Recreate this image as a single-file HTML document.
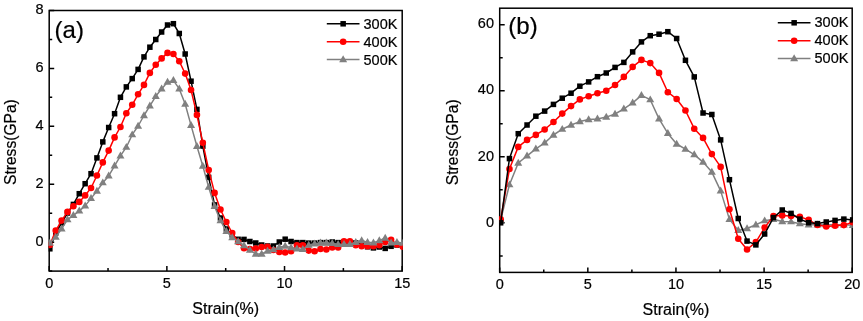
<!DOCTYPE html>
<html><head><meta charset="utf-8"><style>
html,body{margin:0;padding:0;background:#fff;}
body{width:863px;height:321px;overflow:hidden;}
svg{display:block;font-family:"Liberation Sans", sans-serif;will-change:transform;}
text{stroke:#000;stroke-width:0.2px;}
</style></head><body>
<svg width="863" height="321" viewBox="0 0 863 321">
<rect width="863" height="321" fill="#fff"/>
<rect x="49.2" y="10.5" width="353" height="260.6" fill="none" stroke="#000" stroke-width="1.5"/><path d="M49.2 271.1V266.1M166.87 271.1V266.1M284.53 271.1V266.1M402.2 271.1V266.1M108.03 271.1V268.1M225.7 271.1V268.1M343.37 271.1V268.1M49.2 242.14H54.2M49.2 184.23H54.2M49.2 126.32H54.2M49.2 68.41H54.2M49.2 10.5H54.2M49.2 271.1H52.2M49.2 213.19H52.2M49.2 155.28H52.2M49.2 97.37H52.2M49.2 39.46H52.2" stroke="#000" stroke-width="1.5" fill="none"/><clipPath id="ca"><rect x="48.6" y="9.9" width="354.2" height="261.8"/></clipPath><g clip-path="url(#ca)"><polyline points="49.85,248.8 55.73,233 61.62,223 67.5,213 73.38,204.4 79.27,193.7 85.15,183.7 91.03,173.7 96.92,157.9 102.8,141.9 108.68,127.5 114.57,113.7 120.45,97.3 126.33,86.9 132.22,78.6 138.1,69.4 143.98,56.9 149.87,47.2 155.75,39.5 161.63,32 167.52,25 173.4,23.7 179.28,33.5 185.17,54 191.05,81.2 196.93,109.4 202.82,146.1 208.7,177.4 214.58,204.9 220.47,218 226.35,229 232.23,235 238.12,239.3 244,239.4 249.88,241.5 255.77,243 261.65,245 267.53,246 273.42,246 279.3,242 285.18,239.2 291.07,241.5 296.95,242.6 302.83,242.6 308.72,243.1 314.6,243.1 320.48,242.6 326.37,242.6 332.25,242 338.13,242.6 344.02,242.2 349.9,243.2 355.78,243 361.66,243.5 367.55,246.8 373.43,247.9 379.31,247 385.2,248.4 391.08,246.3 396.96,245 402.85,246.3" fill="none" stroke="#000000" stroke-width="1.5" stroke-linejoin="round"/><rect x="47.1" y="246.05" width="5.5" height="5.5" fill="#000000"/><rect x="52.98" y="230.25" width="5.5" height="5.5" fill="#000000"/><rect x="58.87" y="220.25" width="5.5" height="5.5" fill="#000000"/><rect x="64.75" y="210.25" width="5.5" height="5.5" fill="#000000"/><rect x="70.63" y="201.65" width="5.5" height="5.5" fill="#000000"/><rect x="76.52" y="190.95" width="5.5" height="5.5" fill="#000000"/><rect x="82.4" y="180.95" width="5.5" height="5.5" fill="#000000"/><rect x="88.28" y="170.95" width="5.5" height="5.5" fill="#000000"/><rect x="94.17" y="155.15" width="5.5" height="5.5" fill="#000000"/><rect x="100.05" y="139.15" width="5.5" height="5.5" fill="#000000"/><rect x="105.93" y="124.75" width="5.5" height="5.5" fill="#000000"/><rect x="111.82" y="110.95" width="5.5" height="5.5" fill="#000000"/><rect x="117.7" y="94.55" width="5.5" height="5.5" fill="#000000"/><rect x="123.58" y="84.15" width="5.5" height="5.5" fill="#000000"/><rect x="129.47" y="75.85" width="5.5" height="5.5" fill="#000000"/><rect x="135.35" y="66.65" width="5.5" height="5.5" fill="#000000"/><rect x="141.23" y="54.15" width="5.5" height="5.5" fill="#000000"/><rect x="147.12" y="44.45" width="5.5" height="5.5" fill="#000000"/><rect x="153" y="36.75" width="5.5" height="5.5" fill="#000000"/><rect x="158.88" y="29.25" width="5.5" height="5.5" fill="#000000"/><rect x="164.77" y="22.25" width="5.5" height="5.5" fill="#000000"/><rect x="170.65" y="20.95" width="5.5" height="5.5" fill="#000000"/><rect x="176.53" y="30.75" width="5.5" height="5.5" fill="#000000"/><rect x="182.42" y="51.25" width="5.5" height="5.5" fill="#000000"/><rect x="188.3" y="78.45" width="5.5" height="5.5" fill="#000000"/><rect x="194.18" y="106.65" width="5.5" height="5.5" fill="#000000"/><rect x="200.07" y="143.35" width="5.5" height="5.5" fill="#000000"/><rect x="205.95" y="174.65" width="5.5" height="5.5" fill="#000000"/><rect x="211.83" y="202.15" width="5.5" height="5.5" fill="#000000"/><rect x="217.72" y="215.25" width="5.5" height="5.5" fill="#000000"/><rect x="223.6" y="226.25" width="5.5" height="5.5" fill="#000000"/><rect x="229.48" y="232.25" width="5.5" height="5.5" fill="#000000"/><rect x="235.37" y="236.55" width="5.5" height="5.5" fill="#000000"/><rect x="241.25" y="236.65" width="5.5" height="5.5" fill="#000000"/><rect x="247.13" y="238.75" width="5.5" height="5.5" fill="#000000"/><rect x="253.02" y="240.25" width="5.5" height="5.5" fill="#000000"/><rect x="258.9" y="242.25" width="5.5" height="5.5" fill="#000000"/><rect x="264.78" y="243.25" width="5.5" height="5.5" fill="#000000"/><rect x="270.67" y="243.25" width="5.5" height="5.5" fill="#000000"/><rect x="276.55" y="239.25" width="5.5" height="5.5" fill="#000000"/><rect x="282.43" y="236.45" width="5.5" height="5.5" fill="#000000"/><rect x="288.32" y="238.75" width="5.5" height="5.5" fill="#000000"/><rect x="294.2" y="239.85" width="5.5" height="5.5" fill="#000000"/><rect x="300.08" y="239.85" width="5.5" height="5.5" fill="#000000"/><rect x="305.97" y="240.35" width="5.5" height="5.5" fill="#000000"/><rect x="311.85" y="240.35" width="5.5" height="5.5" fill="#000000"/><rect x="317.73" y="239.85" width="5.5" height="5.5" fill="#000000"/><rect x="323.62" y="239.85" width="5.5" height="5.5" fill="#000000"/><rect x="329.5" y="239.25" width="5.5" height="5.5" fill="#000000"/><rect x="335.38" y="239.85" width="5.5" height="5.5" fill="#000000"/><rect x="341.27" y="239.45" width="5.5" height="5.5" fill="#000000"/><rect x="347.15" y="240.45" width="5.5" height="5.5" fill="#000000"/><rect x="353.03" y="240.25" width="5.5" height="5.5" fill="#000000"/><rect x="358.91" y="240.75" width="5.5" height="5.5" fill="#000000"/><rect x="364.8" y="244.05" width="5.5" height="5.5" fill="#000000"/><rect x="370.68" y="245.15" width="5.5" height="5.5" fill="#000000"/><rect x="376.56" y="244.25" width="5.5" height="5.5" fill="#000000"/><rect x="382.45" y="245.65" width="5.5" height="5.5" fill="#000000"/><rect x="388.33" y="243.55" width="5.5" height="5.5" fill="#000000"/><rect x="394.21" y="242.25" width="5.5" height="5.5" fill="#000000"/><rect x="400.1" y="243.55" width="5.5" height="5.5" fill="#000000"/><polyline points="49.85,245 55.73,230.6 61.62,220.6 67.5,211.9 73.38,206.2 79.27,201.9 85.15,195.4 91.03,188 96.92,175.5 102.8,162.4 108.68,150.6 114.57,137.4 120.45,127 126.33,113.2 132.22,104.8 138.1,94.3 143.98,84.9 149.87,72.9 155.75,64.7 161.63,58.4 167.52,52.9 173.4,54 179.28,61.2 185.17,73.6 191.05,90 196.93,114.9 202.82,142.8 208.7,170 214.58,192.9 220.47,209.5 226.35,222 232.23,233 238.12,242 244,248.3 249.88,249 255.77,248.5 261.65,247 267.53,246.8 273.42,250 279.3,252 285.18,252.5 291.07,251.2 296.95,245.2 302.83,245.2 308.72,250.6 314.6,251.2 320.48,249 326.37,249.5 332.25,247.4 338.13,247.4 344.02,241.4 349.9,241.4 355.78,245.2 361.66,246.3 367.55,246.3 373.43,246.3 379.31,245.2 385.2,241.9 391.08,239.7 396.96,244.6 402.85,246.8" fill="none" stroke="#ff0000" stroke-width="1.5" stroke-linejoin="round"/><circle cx="49.85" cy="245" r="3.3" fill="#ff0000"/><circle cx="55.73" cy="230.6" r="3.3" fill="#ff0000"/><circle cx="61.62" cy="220.6" r="3.3" fill="#ff0000"/><circle cx="67.5" cy="211.9" r="3.3" fill="#ff0000"/><circle cx="73.38" cy="206.2" r="3.3" fill="#ff0000"/><circle cx="79.27" cy="201.9" r="3.3" fill="#ff0000"/><circle cx="85.15" cy="195.4" r="3.3" fill="#ff0000"/><circle cx="91.03" cy="188" r="3.3" fill="#ff0000"/><circle cx="96.92" cy="175.5" r="3.3" fill="#ff0000"/><circle cx="102.8" cy="162.4" r="3.3" fill="#ff0000"/><circle cx="108.68" cy="150.6" r="3.3" fill="#ff0000"/><circle cx="114.57" cy="137.4" r="3.3" fill="#ff0000"/><circle cx="120.45" cy="127" r="3.3" fill="#ff0000"/><circle cx="126.33" cy="113.2" r="3.3" fill="#ff0000"/><circle cx="132.22" cy="104.8" r="3.3" fill="#ff0000"/><circle cx="138.1" cy="94.3" r="3.3" fill="#ff0000"/><circle cx="143.98" cy="84.9" r="3.3" fill="#ff0000"/><circle cx="149.87" cy="72.9" r="3.3" fill="#ff0000"/><circle cx="155.75" cy="64.7" r="3.3" fill="#ff0000"/><circle cx="161.63" cy="58.4" r="3.3" fill="#ff0000"/><circle cx="167.52" cy="52.9" r="3.3" fill="#ff0000"/><circle cx="173.4" cy="54" r="3.3" fill="#ff0000"/><circle cx="179.28" cy="61.2" r="3.3" fill="#ff0000"/><circle cx="185.17" cy="73.6" r="3.3" fill="#ff0000"/><circle cx="191.05" cy="90" r="3.3" fill="#ff0000"/><circle cx="196.93" cy="114.9" r="3.3" fill="#ff0000"/><circle cx="202.82" cy="142.8" r="3.3" fill="#ff0000"/><circle cx="208.7" cy="170" r="3.3" fill="#ff0000"/><circle cx="214.58" cy="192.9" r="3.3" fill="#ff0000"/><circle cx="220.47" cy="209.5" r="3.3" fill="#ff0000"/><circle cx="226.35" cy="222" r="3.3" fill="#ff0000"/><circle cx="232.23" cy="233" r="3.3" fill="#ff0000"/><circle cx="238.12" cy="242" r="3.3" fill="#ff0000"/><circle cx="244" cy="248.3" r="3.3" fill="#ff0000"/><circle cx="249.88" cy="249" r="3.3" fill="#ff0000"/><circle cx="255.77" cy="248.5" r="3.3" fill="#ff0000"/><circle cx="261.65" cy="247" r="3.3" fill="#ff0000"/><circle cx="267.53" cy="246.8" r="3.3" fill="#ff0000"/><circle cx="273.42" cy="250" r="3.3" fill="#ff0000"/><circle cx="279.3" cy="252" r="3.3" fill="#ff0000"/><circle cx="285.18" cy="252.5" r="3.3" fill="#ff0000"/><circle cx="291.07" cy="251.2" r="3.3" fill="#ff0000"/><circle cx="296.95" cy="245.2" r="3.3" fill="#ff0000"/><circle cx="302.83" cy="245.2" r="3.3" fill="#ff0000"/><circle cx="308.72" cy="250.6" r="3.3" fill="#ff0000"/><circle cx="314.6" cy="251.2" r="3.3" fill="#ff0000"/><circle cx="320.48" cy="249" r="3.3" fill="#ff0000"/><circle cx="326.37" cy="249.5" r="3.3" fill="#ff0000"/><circle cx="332.25" cy="247.4" r="3.3" fill="#ff0000"/><circle cx="338.13" cy="247.4" r="3.3" fill="#ff0000"/><circle cx="344.02" cy="241.4" r="3.3" fill="#ff0000"/><circle cx="349.9" cy="241.4" r="3.3" fill="#ff0000"/><circle cx="355.78" cy="245.2" r="3.3" fill="#ff0000"/><circle cx="361.66" cy="246.3" r="3.3" fill="#ff0000"/><circle cx="367.55" cy="246.3" r="3.3" fill="#ff0000"/><circle cx="373.43" cy="246.3" r="3.3" fill="#ff0000"/><circle cx="379.31" cy="245.2" r="3.3" fill="#ff0000"/><circle cx="385.2" cy="241.9" r="3.3" fill="#ff0000"/><circle cx="391.08" cy="239.7" r="3.3" fill="#ff0000"/><circle cx="396.96" cy="244.6" r="3.3" fill="#ff0000"/><circle cx="402.85" cy="246.8" r="3.3" fill="#ff0000"/><polyline points="49.85,243 55.73,237 61.62,228.9 67.5,219.6 73.38,215.4 79.27,210.9 85.15,205.9 91.03,198.4 96.92,191 102.8,182.7 108.68,175.9 114.57,165.9 120.45,155.9 126.33,147.2 132.22,134.7 138.1,126 143.98,115.5 149.87,105.8 155.75,96.3 161.63,88.9 167.52,82.1 173.4,80.4 179.28,88.9 185.17,104 191.05,125.4 196.93,146.3 202.82,166 208.7,187.2 214.58,206.4 220.47,220.7 226.35,231.3 232.23,237.5 238.12,241.6 244,245.5 249.88,250 255.77,254 261.65,254 267.53,251 273.42,249.7 279.3,247.3 285.18,246 291.07,247.6 296.95,248.8 302.83,249.4 308.72,245 314.6,243.9 320.48,242.8 326.37,242.8 332.25,243.4 338.13,244.4 344.02,244.4 349.9,244.4 355.78,242.3 361.66,240.6 367.55,242.3 373.43,242.8 379.31,240.6 385.2,238 391.08,242.8 396.96,242.3 402.85,243" fill="none" stroke="#808080" stroke-width="1.5" stroke-linejoin="round"/><path d="M49.85 238.7L53.85 245.63L45.85 245.63Z" fill="#808080"/><path d="M55.73 232.7L59.73 239.63L51.73 239.63Z" fill="#808080"/><path d="M61.62 224.6L65.62 231.53L57.62 231.53Z" fill="#808080"/><path d="M67.5 215.3L71.5 222.23L63.5 222.23Z" fill="#808080"/><path d="M73.38 211.1L77.38 218.03L69.38 218.03Z" fill="#808080"/><path d="M79.27 206.6L83.27 213.53L75.27 213.53Z" fill="#808080"/><path d="M85.15 201.6L89.15 208.53L81.15 208.53Z" fill="#808080"/><path d="M91.03 194.1L95.03 201.03L87.03 201.03Z" fill="#808080"/><path d="M96.92 186.7L100.92 193.63L92.92 193.63Z" fill="#808080"/><path d="M102.8 178.4L106.8 185.33L98.8 185.33Z" fill="#808080"/><path d="M108.68 171.6L112.68 178.53L104.68 178.53Z" fill="#808080"/><path d="M114.57 161.6L118.57 168.53L110.57 168.53Z" fill="#808080"/><path d="M120.45 151.6L124.45 158.53L116.45 158.53Z" fill="#808080"/><path d="M126.33 142.9L130.33 149.83L122.33 149.83Z" fill="#808080"/><path d="M132.22 130.4L136.22 137.33L128.22 137.33Z" fill="#808080"/><path d="M138.1 121.7L142.1 128.63L134.1 128.63Z" fill="#808080"/><path d="M143.98 111.2L147.98 118.13L139.98 118.13Z" fill="#808080"/><path d="M149.87 101.5L153.87 108.43L145.87 108.43Z" fill="#808080"/><path d="M155.75 92L159.75 98.93L151.75 98.93Z" fill="#808080"/><path d="M161.63 84.6L165.63 91.53L157.63 91.53Z" fill="#808080"/><path d="M167.52 77.8L171.52 84.73L163.52 84.73Z" fill="#808080"/><path d="M173.4 76.1L177.4 83.03L169.4 83.03Z" fill="#808080"/><path d="M179.28 84.6L183.28 91.53L175.28 91.53Z" fill="#808080"/><path d="M185.17 99.7L189.17 106.63L181.17 106.63Z" fill="#808080"/><path d="M191.05 121.1L195.05 128.03L187.05 128.03Z" fill="#808080"/><path d="M196.93 142L200.93 148.93L192.93 148.93Z" fill="#808080"/><path d="M202.82 161.7L206.82 168.63L198.82 168.63Z" fill="#808080"/><path d="M208.7 182.9L212.7 189.83L204.7 189.83Z" fill="#808080"/><path d="M214.58 202.1L218.58 209.03L210.58 209.03Z" fill="#808080"/><path d="M220.47 216.4L224.47 223.33L216.47 223.33Z" fill="#808080"/><path d="M226.35 227L230.35 233.93L222.35 233.93Z" fill="#808080"/><path d="M232.23 233.2L236.23 240.13L228.23 240.13Z" fill="#808080"/><path d="M238.12 237.3L242.12 244.23L234.12 244.23Z" fill="#808080"/><path d="M244 241.2L248 248.13L240 248.13Z" fill="#808080"/><path d="M249.88 245.7L253.88 252.63L245.88 252.63Z" fill="#808080"/><path d="M255.77 249.7L259.77 256.63L251.77 256.63Z" fill="#808080"/><path d="M261.65 249.7L265.65 256.63L257.65 256.63Z" fill="#808080"/><path d="M267.53 246.7L271.53 253.63L263.53 253.63Z" fill="#808080"/><path d="M273.42 245.4L277.42 252.33L269.42 252.33Z" fill="#808080"/><path d="M279.3 243L283.3 249.93L275.3 249.93Z" fill="#808080"/><path d="M285.18 241.7L289.18 248.63L281.18 248.63Z" fill="#808080"/><path d="M291.07 243.3L295.07 250.23L287.07 250.23Z" fill="#808080"/><path d="M296.95 244.5L300.95 251.43L292.95 251.43Z" fill="#808080"/><path d="M302.83 245.1L306.83 252.03L298.83 252.03Z" fill="#808080"/><path d="M308.72 240.7L312.72 247.63L304.72 247.63Z" fill="#808080"/><path d="M314.6 239.6L318.6 246.53L310.6 246.53Z" fill="#808080"/><path d="M320.48 238.5L324.48 245.43L316.48 245.43Z" fill="#808080"/><path d="M326.37 238.5L330.37 245.43L322.37 245.43Z" fill="#808080"/><path d="M332.25 239.1L336.25 246.03L328.25 246.03Z" fill="#808080"/><path d="M338.13 240.1L342.13 247.03L334.13 247.03Z" fill="#808080"/><path d="M344.02 240.1L348.02 247.03L340.02 247.03Z" fill="#808080"/><path d="M349.9 240.1L353.9 247.03L345.9 247.03Z" fill="#808080"/><path d="M355.78 238L359.78 244.93L351.78 244.93Z" fill="#808080"/><path d="M361.66 236.3L365.66 243.23L357.66 243.23Z" fill="#808080"/><path d="M367.55 238L371.55 244.93L363.55 244.93Z" fill="#808080"/><path d="M373.43 238.5L377.43 245.43L369.43 245.43Z" fill="#808080"/><path d="M379.31 236.3L383.31 243.23L375.31 243.23Z" fill="#808080"/><path d="M385.2 233.7L389.2 240.63L381.2 240.63Z" fill="#808080"/><path d="M391.08 238.5L395.08 245.43L387.08 245.43Z" fill="#808080"/><path d="M396.96 238L400.96 244.93L392.96 244.93Z" fill="#808080"/><path d="M402.85 238.7L406.85 245.63L398.85 245.63Z" fill="#808080"/></g><text x="49.2" y="287.6" text-anchor="middle" font-size="14.5">0</text><text x="166.87" y="287.6" text-anchor="middle" font-size="14.5">5</text><text x="284.53" y="287.6" text-anchor="middle" font-size="14.5">10</text><text x="402.2" y="287.6" text-anchor="middle" font-size="14.5">15</text><text x="43.5" y="245.84" text-anchor="end" font-size="14.5">0</text><text x="43.5" y="187.93" text-anchor="end" font-size="14.5">2</text><text x="43.5" y="130.02" text-anchor="end" font-size="14.5">4</text><text x="43.5" y="72.11" text-anchor="end" font-size="14.5">6</text><text x="43.5" y="14.2" text-anchor="end" font-size="14.5">8</text><text x="225.7" y="313.7" text-anchor="middle" font-size="16">Strain(%)</text><text transform="translate(16 142.1) rotate(-90)" text-anchor="middle" font-size="15.6">Stress(GPa)</text><text x="54.6" y="37.5" font-size="24">(a)</text><path d="M326.8 23.8H359.5" stroke="#000000" stroke-width="1.5"/><rect x="340.4" y="21.05" width="5.5" height="5.5" fill="#000000"/><text x="363.5" y="29" font-size="14.5">300K</text><path d="M326.8 41.7H359.5" stroke="#ff0000" stroke-width="1.5"/><circle cx="343.15" cy="41.7" r="3.3" fill="#ff0000"/><text x="363.5" y="46.9" font-size="14.5">400K</text><path d="M326.8 59.6H359.5" stroke="#808080" stroke-width="1.5"/><path d="M343.15 55.3L347.15 62.23L339.15 62.23Z" fill="#808080"/><text x="363.5" y="64.8" font-size="14.5">500K</text>
<rect x="499.7" y="8.2" width="352.5" height="264.2" fill="none" stroke="#000" stroke-width="1.5"/><path d="M499.7 272.4V267.4M587.83 272.4V267.4M675.95 272.4V267.4M764.08 272.4V267.4M852.2 272.4V267.4M543.76 272.4V269.4M631.89 272.4V269.4M720.01 272.4V269.4M808.14 272.4V269.4M499.7 222.86H504.7M499.7 156.81H504.7M499.7 90.76H504.7M499.7 24.71H504.7M499.7 255.89H502.7M499.7 189.84H502.7M499.7 123.79H502.7M499.7 57.74H502.7" stroke="#000" stroke-width="1.5" fill="none"/><clipPath id="cb"><rect x="499.1" y="7.6" width="353.7" height="265.4"/></clipPath><g clip-path="url(#cb)"><polyline points="500.65,220 509.45,184.7 518.25,163 527.05,155.9 535.85,148.9 544.65,142.9 553.45,135 562.25,129.2 571.05,125 579.85,121.6 588.65,119.6 597.45,118.9 606.25,117.1 615.05,114 623.85,108.9 632.65,102.9 641.45,95.4 650.25,99.7 659.05,118.9 667.85,133.4 676.65,144 685.45,149.2 694.25,154.6 703.05,162.1 711.85,172.1 720.65,190.9 729.45,219.4 738.25,230.4 747.05,228.5 755.85,224.8 764.65,220.7 773.45,219.3 782.25,221.6 791.05,221.7 799.85,223.7 808.65,224.8 817.45,224.8 826.25,224.8 835.05,224.8 843.85,224.8 852.65,225.3" fill="none" stroke="#808080" stroke-width="1.5" stroke-linejoin="round"/><path d="M500.65 215.7L504.65 222.63L496.65 222.63Z" fill="#808080"/><path d="M509.45 180.4L513.45 187.33L505.45 187.33Z" fill="#808080"/><path d="M518.25 158.7L522.25 165.63L514.25 165.63Z" fill="#808080"/><path d="M527.05 151.6L531.05 158.53L523.05 158.53Z" fill="#808080"/><path d="M535.85 144.6L539.85 151.53L531.85 151.53Z" fill="#808080"/><path d="M544.65 138.6L548.65 145.53L540.65 145.53Z" fill="#808080"/><path d="M553.45 130.7L557.45 137.63L549.45 137.63Z" fill="#808080"/><path d="M562.25 124.9L566.25 131.83L558.25 131.83Z" fill="#808080"/><path d="M571.05 120.7L575.05 127.63L567.05 127.63Z" fill="#808080"/><path d="M579.85 117.3L583.85 124.23L575.85 124.23Z" fill="#808080"/><path d="M588.65 115.3L592.65 122.23L584.65 122.23Z" fill="#808080"/><path d="M597.45 114.6L601.45 121.53L593.45 121.53Z" fill="#808080"/><path d="M606.25 112.8L610.25 119.73L602.25 119.73Z" fill="#808080"/><path d="M615.05 109.7L619.05 116.63L611.05 116.63Z" fill="#808080"/><path d="M623.85 104.6L627.85 111.53L619.85 111.53Z" fill="#808080"/><path d="M632.65 98.6L636.65 105.53L628.65 105.53Z" fill="#808080"/><path d="M641.45 91.1L645.45 98.03L637.45 98.03Z" fill="#808080"/><path d="M650.25 95.4L654.25 102.33L646.25 102.33Z" fill="#808080"/><path d="M659.05 114.6L663.05 121.53L655.05 121.53Z" fill="#808080"/><path d="M667.85 129.1L671.85 136.03L663.85 136.03Z" fill="#808080"/><path d="M676.65 139.7L680.65 146.63L672.65 146.63Z" fill="#808080"/><path d="M685.45 144.9L689.45 151.83L681.45 151.83Z" fill="#808080"/><path d="M694.25 150.3L698.25 157.23L690.25 157.23Z" fill="#808080"/><path d="M703.05 157.8L707.05 164.73L699.05 164.73Z" fill="#808080"/><path d="M711.85 167.8L715.85 174.73L707.85 174.73Z" fill="#808080"/><path d="M720.65 186.6L724.65 193.53L716.65 193.53Z" fill="#808080"/><path d="M729.45 215.1L733.45 222.03L725.45 222.03Z" fill="#808080"/><path d="M738.25 226.1L742.25 233.03L734.25 233.03Z" fill="#808080"/><path d="M747.05 224.2L751.05 231.13L743.05 231.13Z" fill="#808080"/><path d="M755.85 220.5L759.85 227.43L751.85 227.43Z" fill="#808080"/><path d="M764.65 216.4L768.65 223.33L760.65 223.33Z" fill="#808080"/><path d="M773.45 215L777.45 221.93L769.45 221.93Z" fill="#808080"/><path d="M782.25 217.3L786.25 224.23L778.25 224.23Z" fill="#808080"/><path d="M791.05 217.4L795.05 224.33L787.05 224.33Z" fill="#808080"/><path d="M799.85 219.4L803.85 226.33L795.85 226.33Z" fill="#808080"/><path d="M808.65 220.5L812.65 227.43L804.65 227.43Z" fill="#808080"/><path d="M817.45 220.5L821.45 227.43L813.45 227.43Z" fill="#808080"/><path d="M826.25 220.5L830.25 227.43L822.25 227.43Z" fill="#808080"/><path d="M835.05 220.5L839.05 227.43L831.05 227.43Z" fill="#808080"/><path d="M843.85 220.5L847.85 227.43L839.85 227.43Z" fill="#808080"/><path d="M852.65 221L856.65 227.93L848.65 227.93Z" fill="#808080"/><polyline points="500.65,219.3 509.45,169 518.25,146.9 527.05,139.9 535.85,134.9 544.65,129.5 553.45,122 562.25,113.6 571.05,106.1 579.85,99.4 588.65,96.2 597.45,93.2 606.25,90.7 615.05,85 623.85,76.9 632.65,66.9 641.45,59.9 650.25,63.1 659.05,72.9 667.85,92.2 676.65,99 685.45,110.5 694.25,128.7 703.05,137.9 711.85,154.1 720.65,166.9 729.45,209.2 738.25,238.8 747.05,249.5 755.85,242.1 764.65,227.6 773.45,216 782.25,215.5 791.05,216 799.85,216.8 808.65,219.9 817.45,225 826.25,226.5 835.05,225.8 843.85,225.1 852.65,222.3" fill="none" stroke="#ff0000" stroke-width="1.5" stroke-linejoin="round"/><circle cx="500.65" cy="219.3" r="3.3" fill="#ff0000"/><circle cx="509.45" cy="169" r="3.3" fill="#ff0000"/><circle cx="518.25" cy="146.9" r="3.3" fill="#ff0000"/><circle cx="527.05" cy="139.9" r="3.3" fill="#ff0000"/><circle cx="535.85" cy="134.9" r="3.3" fill="#ff0000"/><circle cx="544.65" cy="129.5" r="3.3" fill="#ff0000"/><circle cx="553.45" cy="122" r="3.3" fill="#ff0000"/><circle cx="562.25" cy="113.6" r="3.3" fill="#ff0000"/><circle cx="571.05" cy="106.1" r="3.3" fill="#ff0000"/><circle cx="579.85" cy="99.4" r="3.3" fill="#ff0000"/><circle cx="588.65" cy="96.2" r="3.3" fill="#ff0000"/><circle cx="597.45" cy="93.2" r="3.3" fill="#ff0000"/><circle cx="606.25" cy="90.7" r="3.3" fill="#ff0000"/><circle cx="615.05" cy="85" r="3.3" fill="#ff0000"/><circle cx="623.85" cy="76.9" r="3.3" fill="#ff0000"/><circle cx="632.65" cy="66.9" r="3.3" fill="#ff0000"/><circle cx="641.45" cy="59.9" r="3.3" fill="#ff0000"/><circle cx="650.25" cy="63.1" r="3.3" fill="#ff0000"/><circle cx="659.05" cy="72.9" r="3.3" fill="#ff0000"/><circle cx="667.85" cy="92.2" r="3.3" fill="#ff0000"/><circle cx="676.65" cy="99" r="3.3" fill="#ff0000"/><circle cx="685.45" cy="110.5" r="3.3" fill="#ff0000"/><circle cx="694.25" cy="128.7" r="3.3" fill="#ff0000"/><circle cx="703.05" cy="137.9" r="3.3" fill="#ff0000"/><circle cx="711.85" cy="154.1" r="3.3" fill="#ff0000"/><circle cx="720.65" cy="166.9" r="3.3" fill="#ff0000"/><circle cx="729.45" cy="209.2" r="3.3" fill="#ff0000"/><circle cx="738.25" cy="238.8" r="3.3" fill="#ff0000"/><circle cx="747.05" cy="249.5" r="3.3" fill="#ff0000"/><circle cx="755.85" cy="242.1" r="3.3" fill="#ff0000"/><circle cx="764.65" cy="227.6" r="3.3" fill="#ff0000"/><circle cx="773.45" cy="216" r="3.3" fill="#ff0000"/><circle cx="782.25" cy="215.5" r="3.3" fill="#ff0000"/><circle cx="791.05" cy="216" r="3.3" fill="#ff0000"/><circle cx="799.85" cy="216.8" r="3.3" fill="#ff0000"/><circle cx="808.65" cy="219.9" r="3.3" fill="#ff0000"/><circle cx="817.45" cy="225" r="3.3" fill="#ff0000"/><circle cx="826.25" cy="226.5" r="3.3" fill="#ff0000"/><circle cx="835.05" cy="225.8" r="3.3" fill="#ff0000"/><circle cx="843.85" cy="225.1" r="3.3" fill="#ff0000"/><circle cx="852.65" cy="222.3" r="3.3" fill="#ff0000"/><polyline points="500.65,222.8 509.45,158.6 518.25,133.7 527.05,125 535.85,116.2 544.65,111.1 553.45,104.4 562.25,98.2 571.05,93.2 579.85,86.2 588.65,81.9 597.45,76.7 606.25,73 615.05,67.4 623.85,62.4 632.65,51.9 641.45,41.9 650.25,35.7 659.05,34.2 667.85,31.7 676.65,38.5 685.45,60.3 694.25,76.9 703.05,113 711.85,114.5 720.65,139.9 729.45,179.7 738.25,218.5 747.05,241.1 755.85,244.9 764.65,234 773.45,217.6 782.25,210 791.05,213.4 799.85,219.1 808.65,222.7 817.45,223.6 826.25,222 835.05,220.4 843.85,219.1 852.65,219.9" fill="none" stroke="#000000" stroke-width="1.5" stroke-linejoin="round"/><rect x="497.9" y="220.05" width="5.5" height="5.5" fill="#000000"/><rect x="506.7" y="155.85" width="5.5" height="5.5" fill="#000000"/><rect x="515.5" y="130.95" width="5.5" height="5.5" fill="#000000"/><rect x="524.3" y="122.25" width="5.5" height="5.5" fill="#000000"/><rect x="533.1" y="113.45" width="5.5" height="5.5" fill="#000000"/><rect x="541.9" y="108.35" width="5.5" height="5.5" fill="#000000"/><rect x="550.7" y="101.65" width="5.5" height="5.5" fill="#000000"/><rect x="559.5" y="95.45" width="5.5" height="5.5" fill="#000000"/><rect x="568.3" y="90.45" width="5.5" height="5.5" fill="#000000"/><rect x="577.1" y="83.45" width="5.5" height="5.5" fill="#000000"/><rect x="585.9" y="79.15" width="5.5" height="5.5" fill="#000000"/><rect x="594.7" y="73.95" width="5.5" height="5.5" fill="#000000"/><rect x="603.5" y="70.25" width="5.5" height="5.5" fill="#000000"/><rect x="612.3" y="64.65" width="5.5" height="5.5" fill="#000000"/><rect x="621.1" y="59.65" width="5.5" height="5.5" fill="#000000"/><rect x="629.9" y="49.15" width="5.5" height="5.5" fill="#000000"/><rect x="638.7" y="39.15" width="5.5" height="5.5" fill="#000000"/><rect x="647.5" y="32.95" width="5.5" height="5.5" fill="#000000"/><rect x="656.3" y="31.45" width="5.5" height="5.5" fill="#000000"/><rect x="665.1" y="28.95" width="5.5" height="5.5" fill="#000000"/><rect x="673.9" y="35.75" width="5.5" height="5.5" fill="#000000"/><rect x="682.7" y="57.55" width="5.5" height="5.5" fill="#000000"/><rect x="691.5" y="74.15" width="5.5" height="5.5" fill="#000000"/><rect x="700.3" y="110.25" width="5.5" height="5.5" fill="#000000"/><rect x="709.1" y="111.75" width="5.5" height="5.5" fill="#000000"/><rect x="717.9" y="137.15" width="5.5" height="5.5" fill="#000000"/><rect x="726.7" y="176.95" width="5.5" height="5.5" fill="#000000"/><rect x="735.5" y="215.75" width="5.5" height="5.5" fill="#000000"/><rect x="744.3" y="238.35" width="5.5" height="5.5" fill="#000000"/><rect x="753.1" y="242.15" width="5.5" height="5.5" fill="#000000"/><rect x="761.9" y="231.25" width="5.5" height="5.5" fill="#000000"/><rect x="770.7" y="214.85" width="5.5" height="5.5" fill="#000000"/><rect x="779.5" y="207.25" width="5.5" height="5.5" fill="#000000"/><rect x="788.3" y="210.65" width="5.5" height="5.5" fill="#000000"/><rect x="797.1" y="216.35" width="5.5" height="5.5" fill="#000000"/><rect x="805.9" y="219.95" width="5.5" height="5.5" fill="#000000"/><rect x="814.7" y="220.85" width="5.5" height="5.5" fill="#000000"/><rect x="823.5" y="219.25" width="5.5" height="5.5" fill="#000000"/><rect x="832.3" y="217.65" width="5.5" height="5.5" fill="#000000"/><rect x="841.1" y="216.35" width="5.5" height="5.5" fill="#000000"/><rect x="849.9" y="217.15" width="5.5" height="5.5" fill="#000000"/></g><text x="499.7" y="288.9" text-anchor="middle" font-size="14.5">0</text><text x="587.83" y="288.9" text-anchor="middle" font-size="14.5">5</text><text x="675.95" y="288.9" text-anchor="middle" font-size="14.5">10</text><text x="764.08" y="288.9" text-anchor="middle" font-size="14.5">15</text><text x="852.2" y="288.9" text-anchor="middle" font-size="14.5">20</text><text x="494" y="226.56" text-anchor="end" font-size="14.5">0</text><text x="494" y="160.51" text-anchor="end" font-size="14.5">20</text><text x="494" y="94.46" text-anchor="end" font-size="14.5">40</text><text x="494" y="28.41" text-anchor="end" font-size="14.5">60</text><text x="675.95" y="315" text-anchor="middle" font-size="16">Strain(%)</text><text transform="translate(458 142.25) rotate(-90)" text-anchor="middle" font-size="15.6">Stress(GPa)</text><text x="508.3" y="34.1" font-size="24">(b)</text><path d="M777.8 22.8H810.5" stroke="#000000" stroke-width="1.5"/><rect x="791.4" y="20.05" width="5.5" height="5.5" fill="#000000"/><text x="814.5" y="27.4" font-size="14.5">300K</text><path d="M777.8 40.7H810.5" stroke="#ff0000" stroke-width="1.5"/><circle cx="794.15" cy="40.7" r="3.3" fill="#ff0000"/><text x="814.5" y="45.3" font-size="14.5">400K</text><path d="M777.8 58.6H810.5" stroke="#808080" stroke-width="1.5"/><path d="M794.15 54.3L798.15 61.23L790.15 61.23Z" fill="#808080"/><text x="814.5" y="63.2" font-size="14.5">500K</text>
</svg>
</body></html>
